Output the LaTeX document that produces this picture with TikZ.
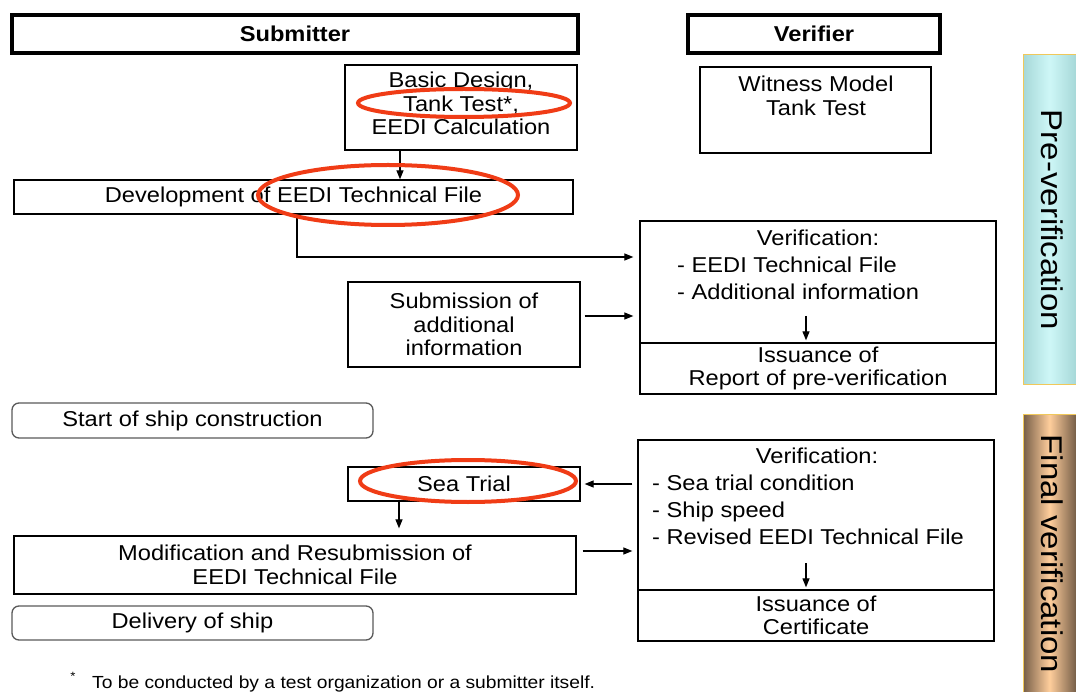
\documentclass[tikz,border=0pt]{standalone}
\usepackage{fontspec}
\setmainfont{Liberation Sans}[FakeStretch=1.1]
\usetikzlibrary{arrows.meta}
\definecolor{ringred}{RGB}{240,60,22}
\definecolor{preedge}{RGB}{166,216,216}
\definecolor{precent}{RGB}{206,247,247}
\definecolor{finedge}{RGB}{118,94,72}
\definecolor{fincent}{RGB}{255,206,156}
\definecolor{barline}{RGB}{240,200,90}
\definecolor{roundline}{RGB}{90,90,90}
\begin{document}
\begin{tikzpicture}[x=1pt,y=-1pt,
  txt/.style={font=\fontsize{21.5}{23.5}\selectfont},
  box/.style={draw, line width=1.3pt, inner sep=0pt, align=center, txt},
  head/.style={draw, line width=4pt, inner sep=0pt, font=\fontsize{21.5}{24}\selectfont\bfseries},
  rbox/.style={draw=roundline, line width=1.3pt, rounded corners=7pt, inner sep=0pt, txt},
  lbl/.style={inner sep=0pt, align=center, txt},
  bul/.style={inner sep=0pt, align=left, font=\fontsize{21.5}{27}\selectfont},
  arr/.style={line width=1.2pt, -{Triangle[length=9pt,width=7pt]}},
  ring/.style={draw=ringred, line width=4pt},
  side/.style={inner sep=0pt, font=\fontsize{30}{30}\selectfont}
]
\clip (0,0) rectangle (1076,692);
\fill[white] (0,0) rectangle (1076,692);

% headers
\node[head, minimum width=566, minimum height=38] (subh) at (295,34) {Submitter};
\node[head, minimum width=252, minimum height=38] (verh) at (814,34) {Verifier};

% submitter column
\node[box, minimum width=232, minimum height=85] (bd) at (461,107.5) {};
\node[lbl, anchor=north] (bdt) at (461,72) {Basic Design,\\Tank Test*,\\EEDI Calculation};
\node[box, minimum width=559, minimum height=34] (dev) at (293.5,197) {Development of EEDI Technical File};
\node[box, minimum width=232, minimum height=85] (sub) at (464,324.5) {Submission of\\additional\\information};
\node[rbox, minimum width=361, minimum height=35] (start) at (192.5,420.5) {Start of ship construction};
\node[box, minimum width=232, minimum height=34] (sea) at (464,484) {Sea Trial};
\node[box, minimum width=562, minimum height=58] (mod) at (295,565) {Modification and Resubmission of\\EEDI Technical File};
\node[rbox, minimum width=361, minimum height=34] (del) at (192.5,623) {Delivery of ship};

% verifier column
\node[box, minimum width=231, minimum height=86] (wit) at (815.5,110) {};
\node[lbl, anchor=north] (witt) at (816,76) {Witness Model\\Tank Test};
\node[box, minimum width=356, minimum height=122] (vtop) at (818,282) {};
\node[box, minimum width=356, minimum height=51] (vbot) at (818,368.5) {Issuance of\\Report of pre-verification};
\node[lbl, anchor=north] (vtopt) at (818,230) {Verification:};
\node[bul, anchor=north west] (vtopb) at (677,257) {- EEDI Technical File\\- Additional information};
\node[box, minimum width=356, minimum height=150] (vtwo) at (816,515) {};
\node[box, minimum width=356, minimum height=51] (vtwob) at (816,615.5) {Issuance of\\Certificate};
\node[lbl, anchor=north] (vtwot) at (817,448) {Verification:};
\node[bul, anchor=north west] (vtwol) at (652,475) {- Sea trial condition\\- Ship speed\\- Revised EEDI Technical File};

% side bars
\node[draw=barline, line width=1pt, left color=preedge, right color=preedge, middle color=precent, minimum width=53, minimum height=330, inner sep=0pt] (pre) at (1049.5,220) {};
\node[side] (pret) at (1052,220) {\rotatebox{-90}{Pre-verification}};
\node[draw=barline, line width=1pt, left color=finedge, right color=finedge, middle color=fincent, minimum width=53, minimum height=278, inner sep=0pt] (fin) at (1049.5,553) {};
\node[side] (fint) at (1052,554) {\rotatebox{-90}{Final verification}};

% connectors
\coordinate (c1) at (400,0);
\draw[arr] (c1 |- bd.south) -- (c1 |- dev.north);
\coordinate (c2) at (297,257);
\draw[arr, shorten >=6pt] (c2 |- dev.south) -- (c2) -- (c2 -| vtop.west);
\coordinate (c3) at (0,316);
\draw[arr, shorten <=4pt, shorten >=6pt] (sub.east |- c3) -- (vtop.west |- c3);
\coordinate (c4) at (806,316);
\draw[arr, shorten >=2pt] (c4) -- (c4 |- vbot.north);
\draw[arr, shorten <=5pt, shorten >=4pt] (vtwo.west |- sea.east) -- (sea.east);
\coordinate (c6) at (399,0);
\draw[arr, shorten >=7pt] (c6 |- sea.south) -- (c6 |- mod.north);
\coordinate (c7) at (0,551);
\draw[arr, shorten <=6pt, shorten >=5pt] (mod.east |- c7) -- (vtwo.west |- c7);
\coordinate (c8) at (806,563);
\draw[arr, shorten >=2pt] (c8) -- (c8 |- vtwob.north);

% highlight rings
\draw[ring] (464,103) ellipse [x radius=106, y radius=14];
\draw[ring] (388,195) ellipse [x radius=130, y radius=30];
\draw[ring] (468,481) ellipse [x radius=108, y radius=21];

% footnote
\node[inner sep=0pt, font=\fontsize{12}{12}\selectfont] (ast) at (73,676) {*};
\node[inner sep=0pt, anchor=base west, font=\fontsize{17.5}{17.5}\selectfont] (foot) at (92,688) {To be conducted by a test organization or a submitter itself.};
\end{tikzpicture}
\end{document}
